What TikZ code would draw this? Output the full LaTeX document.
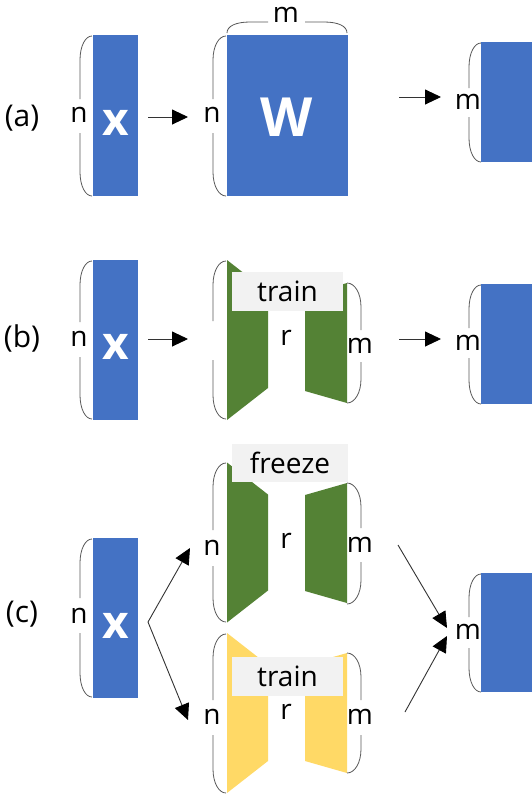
\documentclass[tikz,border=0pt]{standalone}
\usepackage{fontspec}
\setmainfont{Open Sans}
\usetikzlibrary{arrows.meta}
\definecolor{xblue}{HTML}{4472C4}
\definecolor{lgreen}{HTML}{548235}
\definecolor{lyellow}{HTML}{FFD966}
\definecolor{lgray}{HTML}{F2F2F2}
\tikzset{
  brk/.style={draw=black!65, line width=0.8pt},
  arr/.style={draw=black!80, line width=0.9pt, -{Triangle[length=16pt,width=15pt,color=black]}},
  lab/.style={font=\fontsize{28}{30}\selectfont, inner sep=0pt},
  tag/.style={font=\fontsize{30}{32}\selectfont, inner sep=0pt},
  blk/.style={fill=xblue, draw=none, inner sep=0pt},
  xg/.style={text=white, font=\fontsize{46}{48}\selectfont\bfseries, inner sep=0pt},
  wg/.style={text=white, font=\fontsize{54}{56}\selectfont\bfseries, inner sep=0pt},
  tagbox/.style={fill=lgray, draw=none, inner sep=0pt, font=\fontsize{28}{30}\selectfont}
}
% left-opening bracket: xe (ends), xl (line), ytop, ybot, gap top, gap bottom
\newcommand{\brkL}[6]{%
  \draw[brk] (#1,#3) .. controls ({#2+0.45*(#1-#2)},#3) and (#2,{#3+10}) .. (#2,{#3+24}) -- (#2,#5);
  \draw[brk] (#2,#6) -- (#2,{#4-24}) .. controls (#2,{#4-10}) and ({#2+0.45*(#1-#2)},#4) .. (#1,#4);}
\newcommand{\lorapair}[3]{%
  \fill[#3] (227,{#1-80}) -- (268,{#1-48}) -- (268,{#1+48}) -- (227,{#1+80}) -- cycle;
  \fill[#3] (305,{#2-48}) -- (347,{#2-60}) -- (347,{#2+60}) -- (305,{#2+48}) -- cycle;}
\begin{document}
\begin{tikzpicture}[x=1pt,y=-1pt]
\useasboundingbox (0,0) rectangle (532,796);
\fill[white] (0,0) rectangle (532,796);
% ---------------- (a)
\node[tag] (ta) at (22,118) {(a)};
\node[blk, minimum width=45pt, minimum height=161pt] (Xa) at (115.5,115.5) {};
\node[xg] (xa) at (116,123) {x};
\node[lab] (na) at (79,115) {n};
\brkL{92}{80}{36}{196}{99}{133}
\coordinate (a1s) at (148,117); \coordinate (a1e) at (188,117);
\draw[arr] (a1s) -- (a1e);
\node[lab] (nW) at (212,115) {n};
\brkL{226}{213}{36}{196}{99}{133}
\node[blk, minimum width=121pt, minimum height=161pt] (Wa) at (287.5,115.5) {};
\node[wg] (wa) at (287,117) {W};
\node[lab] (mW) at (286,15) {m};
\draw[brk] (227,33) .. controls (227,26) and (236,22) .. (250,22) -- (268,22);
\draw[brk] (305,22) -- (324,22) .. controls (338,22) and (347,26) .. (347,33);
\coordinate (a2s) at (399,97); \coordinate (a2e) at (441,97);
\draw[arr] (a2s) -- (a2e);
\node[lab] (ma) at (468,102) {m};
\brkL{481}{469}{43}{162}{88}{117}
\node[blk, minimum width=51pt, minimum height=120pt] (Ya) at (506.5,102) {};
% ---------------- (b)
\node[tag] (tb) at (22,338) {(b)};
\node[blk, minimum width=45pt, minimum height=160pt] (Xb) at (115.5,340) {};
\node[xg] (xb) at (116,347) {x};
\node[lab] (nb) at (79,339) {n};
\brkL{92}{80}{261}{419}{322}{357}
\coordinate (b1s) at (148,339); \coordinate (b1e) at (188,339);
\draw[arr] (b1s) -- (b1e);
\brkL{226}{213}{261}{419}{321}{360}
\lorapair{340}{343}{lgreen}
\node[tagbox, minimum width=111pt, minimum height=39pt] (trb) at (287.5,291.5) {train};
\node[lab] (rb) at (286,338) {r};
\node[lab] (mb1) at (360,346) {m};
\brkL{347}{361}{283}{403}{330}{362}
\coordinate (b2s) at (399,339); \coordinate (b2e) at (441,339);
\draw[arr] (b2s) -- (b2e);
\node[lab] (mb) at (468,343) {m};
\brkL{481}{469}{285}{404}{328}{358}
\node[blk, minimum width=51pt, minimum height=120pt] (Yb) at (506.5,344) {};
% ---------------- (c)
\node[tag] (tc) at (22,614) {(c)};
\node[blk, minimum width=45pt, minimum height=160pt] (Xc) at (115.5,618) {};
\node[xg] (xc) at (116,626) {x};
\node[lab] (nc) at (79,616) {n};
\brkL{92}{80}{539}{697}{598}{633}
\coordinate (fork) at (148,622);
\coordinate (c1e) at (190,548); \coordinate (c2e) at (188,720);
\draw[arr] (fork) -- (c1e);
\draw[arr] (fork) -- (c2e);
% top: freeze
\lorapair{542.5}{543}{lgreen}
\node[tagbox, minimum width=116pt, minimum height=38pt] (frz) at (290,463) {freeze};
\node[lab] (nc1) at (212,548) {n};
\brkL{226}{213}{463}{622}{530}{566}
\node[lab] (rc1) at (286,541) {r};
\node[lab] (mc1) at (360,545) {m};
\brkL{347}{361}{483}{604}{528}{562}
% bottom: train
\lorapair{713}{713}{lyellow}
\node[tagbox, minimum width=111pt, minimum height=39pt] (trc) at (287.5,676.5) {train};
\node[lab] (nc2) at (212,717) {n};
\brkL{226}{213}{634}{793}{700}{735}
\node[lab] (rc2) at (286,712) {r};
\node[lab] (mc2) at (360,717) {m};
\brkL{347}{361}{653}{773}{700}{735}
\coordinate (c3s) at (398,545); \coordinate (c3e) at (447,628);
\coordinate (c4s) at (405,712); \coordinate (c4e) at (447,636);
\draw[arr] (c3s) -- (c3e);
\draw[arr] (c4s) -- (c4e);
\node[lab] (mc) at (468,632) {m};
\brkL{481}{469}{574}{692}{617}{648}
\node[blk, minimum width=51pt, minimum height=119pt] (Yc) at (506.5,632.5) {};
\end{tikzpicture}
\end{document}
